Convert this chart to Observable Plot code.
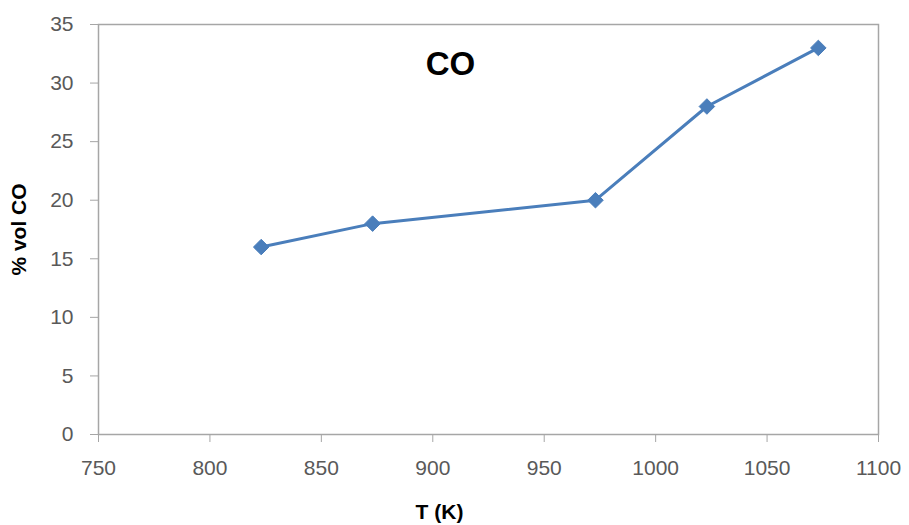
<!DOCTYPE html>
<html>
<head>
<meta charset="utf-8">
<script src="https://cdn.jsdelivr.net/npm/d3@7"></script>
<script src="https://cdn.jsdelivr.net/npm/@observablehq/plot@0.6"></script>
<style>
  html, body { margin: 0; padding: 0; background: #fff; }
  #chart { width: 909px; height: 525px; }
</style>
</head>
<body>
<div id="chart"></div>
<script>
const temperatureK = [823, 873, 973, 1023, 1073];
const volCO = [16, 18, 20, 28, 33];
const xTicks = [750, 800, 850, 900, 950, 1000, 1050, 1100];
const yTicks = [0, 5, 10, 15, 20, 25, 30, 35];
const chartTitle = "CO";
const xTitle = "T (K)";
const yTitle = "% vol CO";

const data = temperatureK.map((t, i) => ({t, v: volCO[i]}));
const blue = "#4a7ebb";
const axisGray = "#a6a6a6";
const textGray = "#595959";
const font = "Liberation Sans, Arial, sans-serif";

const chart = Plot.plot({
  width: 909,
  height: 525,
  marginLeft: 98,
  marginRight: 31,
  marginTop: 24,
  marginBottom: 91,
  style: {fontFamily: font, background: "#fff"},
  x: {domain: [750, 1100]},
  y: {domain: [0, 35]},
  marks: [
    Plot.frame({stroke: axisGray, strokeWidth: 1.5}),
    Plot.axisX({ticks: xTicks, tickSize: 8, tickPadding: 18, label: null, fontSize: 21, color: textGray, stroke: axisGray, tickFormat: d => String(d)}),
    Plot.axisY({ticks: yTicks, tickSize: 8, tickPadding: 17, label: null, fontSize: 21, color: textGray, stroke: axisGray, tickFormat: d => String(d)}),
    Plot.line(data, {x: "t", y: "v", stroke: blue, strokeWidth: 3}),
    Plot.dot(data, {x: "t", y: "v", symbol: "diamond2", r: 7, fill: blue, stroke: blue, strokeWidth: 1}),
    Plot.text([chartTitle], {frameAnchor: "top", dx: -38, dy: 40, lineAnchor: "middle", text: d => d, fontSize: 33, fontWeight: "bold", fill: "#000"}),
    Plot.text([xTitle], {frameAnchor: "bottom", dx: -49, dy: 78, lineAnchor: "middle", text: d => d, fontSize: 21, fontWeight: "bold", fill: "#000"}),
    Plot.text([yTitle], {frameAnchor: "left", dx: -79, rotate: -90, textAnchor: "middle", lineAnchor: "middle", text: d => d, fontSize: 21, fontWeight: "bold", fill: "#000"})
  ]
});
document.getElementById("chart").appendChild(chart);
</script>
</body>
</html>
